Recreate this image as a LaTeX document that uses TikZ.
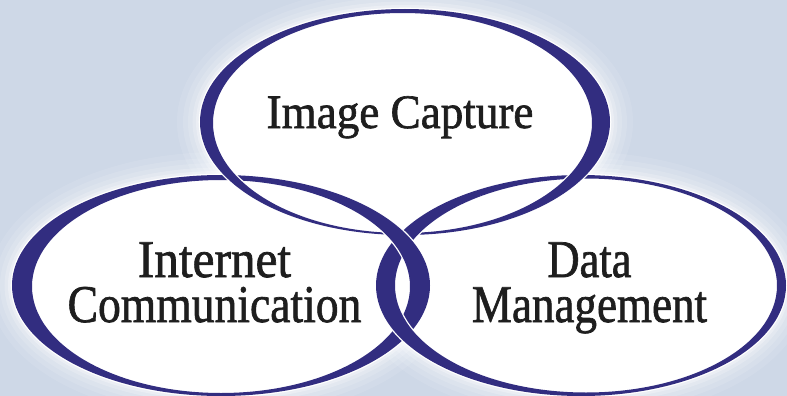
\documentclass[tikz,border=0pt]{standalone}
\usepackage{fontspec}
\setmainfont{Liberation Serif}
\newfontfamily\lblfont{Liberation Serif}[FakeBold=1.3]
\definecolor{navy}{RGB}{50,45,128}
\definecolor{bgblue}{RGB}{206,216,231}
\definecolor{ink}{RGB}{30,30,30}
\newcommand\outA{(405,122) ellipse [x radius=205pt, y radius=113pt]}
\newcommand\inA{(402.5,123) ellipse [x radius=189.5pt, y radius=110pt]}
\newcommand\outB{(221,285.5) ellipse [x radius=209pt, y radius=110.5pt]}
\newcommand\inB{(221,286.5) ellipse [x radius=189pt, y radius=106.5pt]}
\newcommand\outC{(581,285.5) ellipse [x radius=205pt, y radius=110.5pt]}
\newcommand\inC{(586,285.5) ellipse [x radius=191pt, y radius=107pt]}
\newcommand\bandA{\draw[rim] \outA; \draw[rim] \inA; \fill[band] \outA \inA;}
\newcommand\bandB{\draw[rim] \outB; \draw[rim] \inB; \fill[band] \outB \inB;}
\newcommand\bandC{\draw[rim] \outC; \draw[rim] \inC; \fill[band] \outC \inC;}
\begin{document}
\begin{tikzpicture}[x=1pt,y=-1pt,
  band/.style={fill=navy, even odd rule},
  rim/.style={draw=white, line width=2.6pt},
  lbl/.style={text=ink, anchor=base, inner sep=0pt, align=center,
              font=\lblfont\fontsize{53}{45}\selectfont}]
\useasboundingbox (0,0) rectangle (787,396);
\fill[bgblue] (0,0) rectangle (787,396);
\clip (0,0) rectangle (787,396);
% soft glow
\foreach \w/\o in {46/0.10, 34/0.12, 24/0.15, 15/0.2, 8/0.3}{
  \draw[white, opacity=\o, line width=\w pt] \outA;
  \draw[white, opacity=\o, line width=\w pt] \outB;
  \draw[white, opacity=\o, line width=\w pt] \outC;
}
% white interiors
\fill[white] \outA; \fill[white] \outB; \fill[white] \outC;
% bands
\bandB
\bandC
\bandA
\begin{scope}
  \clip (330,195) rectangle (480,282);
  \bandC
  \bandB
\end{scope}
% labels
\node[lbl, font=\lblfont\fontsize{48}{56}\selectfont] (t1) at (400,128) {\scalebox{0.94}[1]{Image Capture}};
\node[lbl] (t2) at (214.5,322) {\scalebox{0.93}[1]{Internet}\\\scalebox{0.86}[1]{Communication}};
\node[lbl] (t3) at (589.5,322) {\scalebox{0.84}[1]{Data}\\\scalebox{0.85}[1]{Management}};
\end{tikzpicture}
\end{document}
